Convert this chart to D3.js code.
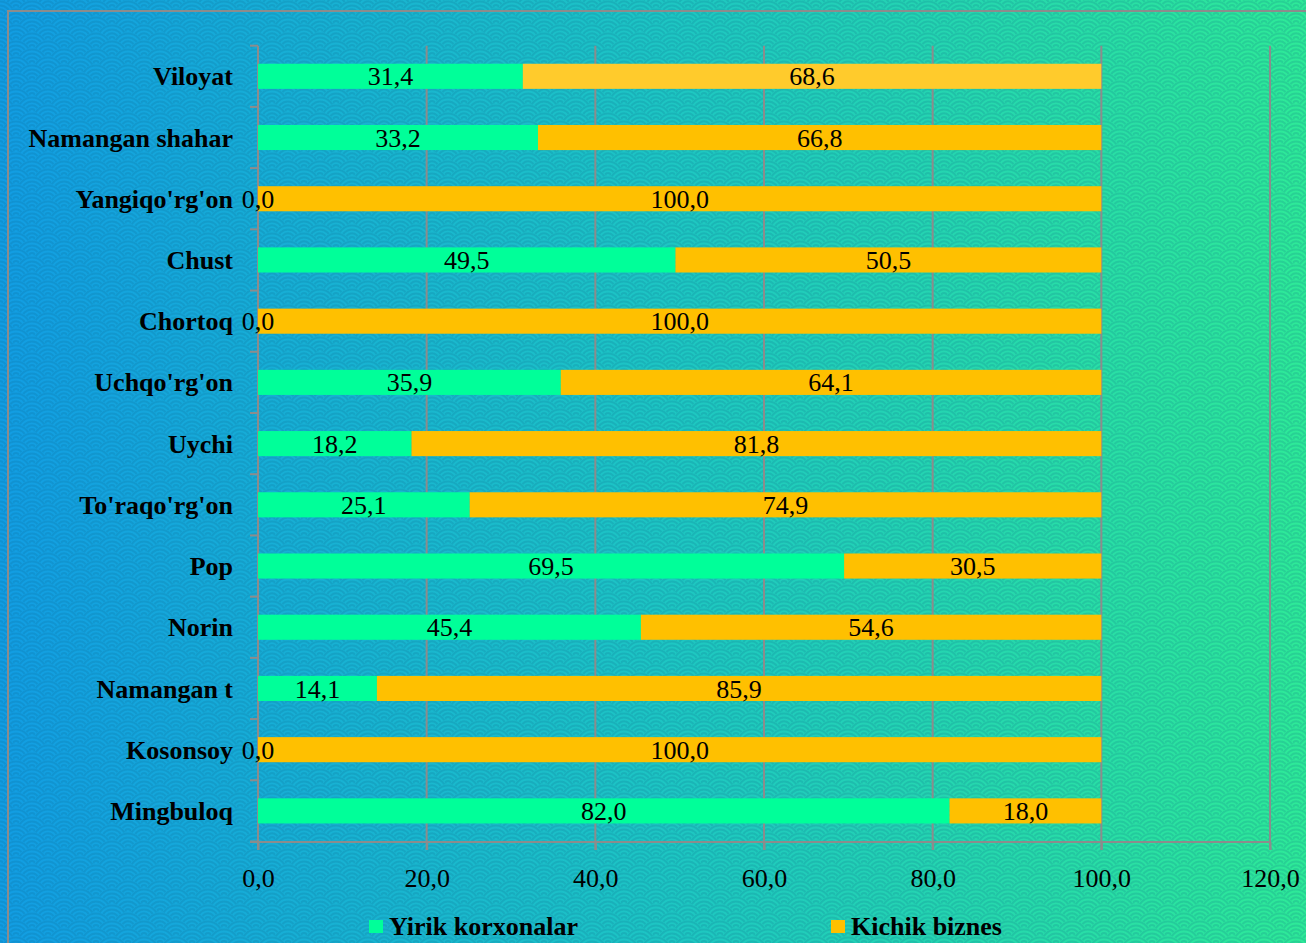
<!DOCTYPE html>
<html><head><meta charset="utf-8">
<script src="https://cdn.jsdelivr.net/npm/d3@7"></script>
<style>html,body{margin:0;padding:0;overflow:hidden;background:#1ab8d0}</style>
</head><body>
<script>
const categories = ["Viloyat","Namangan shahar","Yangiqo'rg'on","Chust","Chortoq","Uchqo'rg'on","Uychi","To'raqo'rg'on","Pop","Norin","Namangan t","Kosonsoy","Mingbuloq"];
const yirik = [31.4,33.2,0.0,49.5,0.0,35.9,18.2,25.1,69.5,45.4,14.1,0.0,82.0];
const kichik = [68.6,66.8,100.0,50.5,100.0,64.1,81.8,74.9,30.5,54.6,85.9,100.0,18.0];
const seriesNames = ["Yirik korxonalar","Kichik biznes"];
const xTicks = [0,20,40,60,80,100,120];

const W=1306,H=943;
const FONT="'Liberation Serif','Times New Roman',serif";
const svg=d3.select("body").append("svg").attr("width",W).attr("height",H);
const defs=svg.append("defs");
const grad=defs.append("linearGradient").attr("id","bg").attr("x1","0").attr("x2","1").attr("y1","0").attr("y2","0");
grad.append("stop").attr("offset","0").attr("stop-color","#129de3");
grad.append("stop").attr("offset","0.5").attr("stop-color","#1dc5c4");
grad.append("stop").attr("offset","1").attr("stop-color","#2eea98");
// seigaiha pattern (used as mask)
const R=16;
const pat=defs.append("pattern").attr("id","waves").attr("patternUnits","userSpaceOnUse").attr("width",2*R).attr("height",R);
const centers=[[0,0],[2*R,0],[R,R/2],[0,R],[2*R,R],[R,1.5*R],[0,2*R],[2*R,2*R]];
centers.forEach(([cx,cy])=>{
  pat.append("circle").attr("cx",cx).attr("cy",cy).attr("r",R).attr("fill","#000");
  [0.9,0.66,0.42,0.18].forEach(f=>{
    pat.append("circle").attr("cx",cx).attr("cy",cy).attr("r",R*f).attr("fill","none").attr("stroke","#fff").attr("stroke-width",2);
  });
});
const mask=defs.append("mask").attr("id","wmask").attr("maskUnits","userSpaceOnUse").attr("x",0).attr("y",0).attr("width",W).attr("height",H);
mask.append("rect").attr("width",W).attr("height",H).attr("fill","url(#waves)");

svg.append("rect").attr("width",W).attr("height",H).attr("fill","url(#bg)");
svg.append("rect").attr("width",W).attr("height",H).attr("fill","#0a5a80").attr("opacity",0.16).attr("mask","url(#wmask)");
svg.append("rect").attr("x",8).attr("y",11).attr("width",W+20).attr("height",H+20)
  .attr("fill","none").attr("stroke","#8c8c8c").attr("stroke-width",2);

const x=d3.scaleLinear().domain([0,120]).range([258,1270]);
const y=d3.scaleBand().domain(categories).range([45.7,841.5]).paddingInner(0.59).paddingOuter(0.295);
const grey="#8c8c8c";

// gridlines
svg.append("g").selectAll("line").data(xTicks.slice(1)).join("line")
  .attr("x1",d=>x(d)).attr("x2",d=>x(d)).attr("y1",45.7).attr("y2",850)
  .attr("stroke",grey).attr("stroke-width",2);
// left axis line + ticks
svg.append("line").attr("x1",258).attr("x2",258).attr("y1",45.7).attr("y2",850).attr("stroke",grey).attr("stroke-width",2);
const step=y.step();
svg.append("g").selectAll("line").data(d3.range(categories.length+1)).join("line")
  .attr("x1",250).attr("x2",258).attr("y1",i=>45.7+i*step).attr("y2",i=>45.7+i*step)
  .attr("stroke",grey).attr("stroke-width",2);
// bottom axis
const xAxis=svg.append("g").attr("transform","translate(0,842)")
  .call(d3.axisBottom(x).tickValues(xTicks).tickSize(8).tickFormat(d=>d3.format(".1f")(d).replace(".",",")));
xAxis.select(".domain").attr("stroke",grey).attr("stroke-width",2).attr("d","M250,0H1270");
xAxis.selectAll(".tick line").attr("stroke",grey).attr("stroke-width",2);
xAxis.selectAll(".tick text").attr("fill","#000").attr("font-family",FONT)
  .attr("font-size",26).attr("y",36).attr("dy","0.35em");

const fmt=v=>d3.format(".1f")(v).replace(".",",");
const green="#00ff99", orange="#ffc000";
const rows=categories.map((c,i)=>({c,i,a:yirik[i],b:kichik[i]}));
const g=svg.append("g");
g.selectAll(".a").data(rows).join("rect").attr("x",d=>x(0)).attr("y",d=>y(d.c))
  .attr("width",d=>x(d.a)-x(0)).attr("height",y.bandwidth()).attr("fill",green);
g.selectAll(".b").data(rows).join("rect").attr("x",d=>x(d.a)).attr("y",d=>y(d.c))
  .attr("width",d=>x(d.a+d.b)-x(d.a)).attr("height",y.bandwidth()).attr("fill",d=>d.i===0?"#ffcb2c":orange);
const lab=svg.append("g").attr("font-family",FONT).attr("font-size",26).attr("text-anchor","middle");
rows.forEach(d=>{
  const cy=y(d.c)+y.bandwidth()/2;
  lab.append("text").attr("x",x(d.a/2)).attr("y",cy).attr("dy","0.35em").text(fmt(d.a));
  lab.append("text").attr("x",x(d.a+d.b/2)).attr("y",cy).attr("dy","0.35em").text(fmt(d.b));
});
// category labels
svg.append("g").attr("font-family",FONT).attr("font-size",26).attr("font-weight","bold").attr("text-anchor","end")
  .selectAll("text").data(categories).join("text").attr("x",233).attr("y",d=>y(d)+y.bandwidth()/2).attr("dy","0.35em").text(d=>d);
// legend
const leg=[{n:seriesNames[0],c:green,x:369},{n:seriesNames[1],c:orange,x:831}];
const lg=svg.append("g").attr("font-family",FONT).attr("font-size",26).attr("font-weight","bold");
leg.forEach(l=>{
  lg.append("rect").attr("x",l.x).attr("y",920).attr("width",14).attr("height",13).attr("fill",l.c);
  lg.append("text").attr("x",l.x+20).attr("y",935).text(l.n);
});
</script>
</body></html>
